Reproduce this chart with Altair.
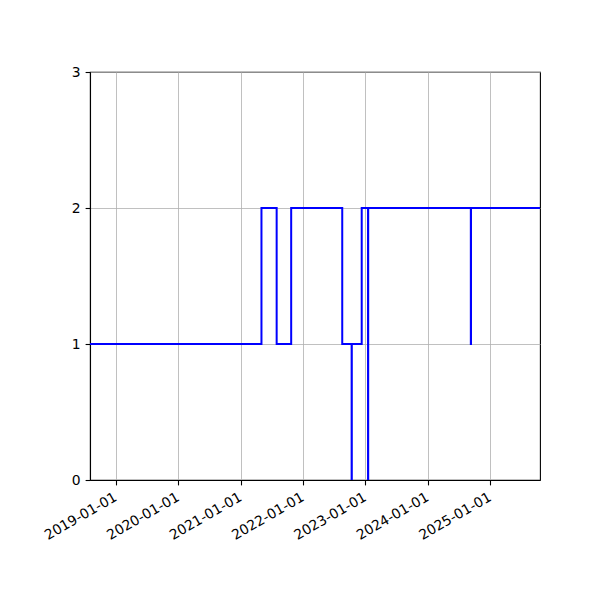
import altair as alt
import pandas as pd

dates = [
    "2018-08-02", "2021-05-02", "2021-07-30", "2021-10-23", "2022-08-18",
    "2022-10-12", "2022-10-13", "2022-12-10", "2023-01-16", "2023-01-17",
    "2024-09-09", "2024-09-10", "2025-10-19",
]
values = [1, 2, 1, 2, 1, 0, 1, 2, 0, 2, 1, 2, 2]
tick_years = [2019, 2020, 2021, 2022, 2023, 2024, 2025]
y_ticks = [0, 1, 2, 3]

df = pd.DataFrame({"date": dates, "value": values})

font = "DejaVu Sans"

chart = (
    alt.Chart(df)
    .mark_line(interpolate="step-after", color="#0000ff", strokeWidth=2, clip=True)
    .encode(
        x=alt.X(
            "date:T",
            scale=alt.Scale(
                type="utc",
                domain=[
                    alt.DateTime(year=2018, month=8, date=2, utc=True),
                    alt.DateTime(year=2025, month=10, date=19, utc=True),
                ],
                nice=False,
            ),
            axis=alt.Axis(
                values=[alt.DateTime(year=y, month=1, date=1, utc=True) for y in tick_years],
                format="%Y-%m-%d",
                labelAngle=330,
                labelAlign="right",
                labelBaseline="top",
                labelOffset=-4,
                title=None,
            ),
        ),
        y=alt.Y(
            "value:Q",
            scale=alt.Scale(domain=[0, 3], nice=False),
            axis=alt.Axis(values=y_ticks, format="d", title=None),
        ),
    )
    .properties(
        width=450,
        height=408,
        autosize="none",
        padding={"left": 82, "top": 64, "right": 50, "bottom": 120},
    )
    .configure_view(stroke="black", strokeWidth=1.1)
    .configure_axis(
        grid=True,
        gridColor="#b0b0b0",
        gridWidth=0.8,
        domainColor="black",
        domainWidth=1.1,
        tickColor="black",
        tickWidth=1.1,
        tickSize=4.9,
        labelFont=font,
        labelFontSize=13.9,
        labelColor="black",
        labelPadding=4.9,
        labelFlush=False,
        labelOverlap=False,
    )
)

chart.save("out.html", embed_options={"renderer": "svg", "actions": False})
